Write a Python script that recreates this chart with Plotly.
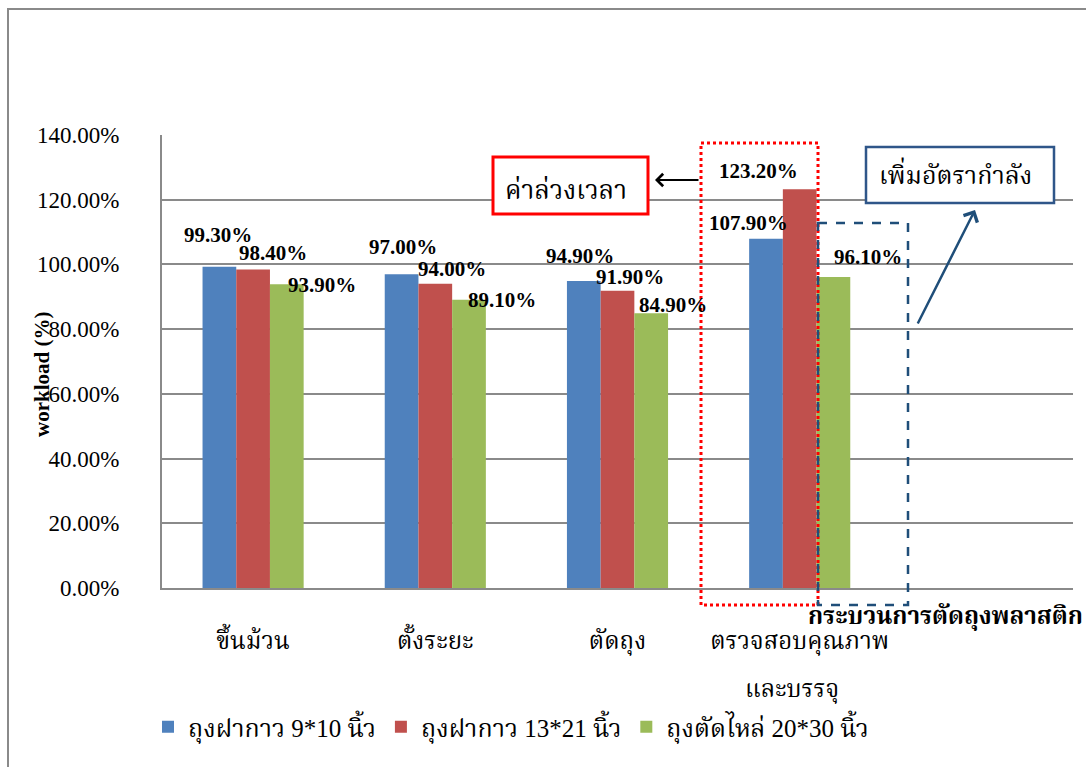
import plotly.graph_objects as go

# ---------------- data ----------------
categories = ["ขึ้นม้วน", "ตั้งระยะ", "ตัดถุง", "ตรวจสอบคุณภาพ"]
category_line2 = ["", "", "", "และบรรจุ"]
series_names = ["ถุงฝากาว 9*10 นิ้ว", "ถุงฝากาว 13*21 นิ้ว", "ถุงตัดไหล่ 20*30 นิ้ว"]
s1 = [99.3, 97.0, 94.9, 107.9]
s2 = [98.4, 94.0, 91.9, 123.2]
s3 = [93.9, 89.1, 84.9, 96.1]
y_ticks = [0, 20, 40, 60, 80, 100, 120, 140]
y_tick_labels = [f"{v:.2f}%" for v in y_ticks]

# ---------------- style ----------------
colors = ["#4F81BD", "#C0504D", "#9BBB59"]
THAI = "Liberation Serif, Noto Serif Thai, Noto Sans Thai, serif"
SERIF = "Liberation Serif, Times New Roman, serif"

W, H = 1086, 767
L, R, T, B = 162, 13, 135, 179
PW, PH = W - L - R, H - T - B

def px(x):
    return (x - L) / PW

def py(y):
    return (H - B - y) / PH

fig = go.Figure()
xs = list(range(len(categories)))
for name, vals, c in zip(series_names, [s1, s2, s3], colors):
    fig.add_trace(go.Bar(x=xs, y=vals, name=name, marker=dict(color=c, line=dict(width=0))))

# data labels (manually offset like the original)
offsets = [
    [(-1, -32), (1, -27), (-4, -25), (-17, -16)],
    [(20, -17), (17, -15), (12, -14), (-41, -18)],
    [(35, 1), (33, 0), (22, -8), (35, -20)],
]
bar_w = 0.185
for si, vals in enumerate([s1, s2, s3]):
    for ci, v in enumerate(vals):
        dx, dy = offsets[si][ci]
        fig.add_annotation(
            x=ci + (si - 1) * bar_w, y=v, xref="x", yref="y",
            xanchor="center", yanchor="middle",
            text=f"{v:.2f}%", showarrow=False,
            xshift=dx, yshift=-dy,
            font=dict(family=SERIF, size=21, color="black", weight="bold"),
        )

# second line of wrapped category labels
for ci, t in enumerate(category_line2):
    if t:
        fig.add_annotation(x=ci, y=py(690), xref="x", yref="paper", xanchor="center", yanchor="middle",
                           text=t, showarrow=False, xshift=-8,
                           font=dict(family=THAI, size=24, color="black"))

shapes = []
# outer chart border
shapes.append(dict(type="rect", xref="paper", yref="paper",
                   x0=px(8), x1=px(1095), y0=py(9), y1=py(790),
                   line=dict(color="#8A8A8A", width=2), fillcolor="rgba(0,0,0,0)", layer="below"))
# red dotted rectangle
shapes.append(dict(type="rect", xref="paper", yref="paper",
                   x0=px(701), x1=px(818), y0=py(143), y1=py(605),
                   line=dict(color="#FF0000", width=3, dash="dot")))
# blue dashed rectangle
shapes.append(dict(type="rect", xref="paper", yref="paper",
                   x0=px(818), x1=px(908), y0=py(223), y1=py(605),
                   line=dict(color="#1F4E79", width=2.5, dash="dash")))
# red text box
shapes.append(dict(type="rect", xref="paper", yref="paper",
                   x0=px(493), x1=px(648), y0=py(157), y1=py(214),
                   line=dict(color="#FF0000", width=3), fillcolor="white"))
# blue text box
shapes.append(dict(type="rect", xref="paper", yref="paper",
                   x0=px(866), x1=px(1054), y0=py(147), y1=py(203),
                   line=dict(color="#2F5689", width=2.5), fillcolor="white"))
fig.update_layout(shapes=shapes)

fig.add_annotation(xref="paper", yref="paper", x=px(566), y=py(190), xanchor="center", yanchor="middle",
                   text="ค่าล่วงเวลา", showarrow=False, font=dict(family=THAI, size=26, color="black"))
fig.add_annotation(xref="paper", yref="paper", x=px(955), y=py(173), xanchor="center", yanchor="middle",
                   text="เพิ่มอัตรากำลัง", showarrow=False, font=dict(family=THAI, size=25, color="black"))
# black arrow
fig.add_annotation(xref="x domain", yref="y domain", x=px(655), y=py(180), ax=px(700), ay=py(180),
                   axref="x domain", ayref="y domain", text="", showarrow=True,
                   arrowhead=4, arrowsize=1.2, arrowwidth=2, arrowcolor="black")
# blue arrow
fig.add_annotation(xref="x domain", yref="y domain", x=px(975), y=py(210), ax=px(917), ay=py(325),
                   axref="x domain", ayref="y domain", text="", showarrow=True,
                   arrowhead=4, arrowsize=1.2, arrowwidth=2.5, arrowcolor="#1F4E79")
# x axis title
fig.add_annotation(xref="paper", yref="paper", x=px(1085), y=py(617), xanchor="right", yanchor="middle",
                   text="<b>กระบวนการตัดถุงพลาสติก</b>", showarrow=False,
                   font=dict(family=THAI, size=24, color="black"))
# y axis title
fig.add_annotation(xref="paper", yref="paper", x=px(42), y=py(375), xanchor="center", yanchor="middle",
                   textangle=-90, text="<b>workload (%)</b>", showarrow=False,
                   font=dict(family=SERIF, size=21, color="black"))

fig.update_layout(
    width=W, height=H,
    margin=dict(l=L, r=R, t=T, b=B, autoexpand=False),
    paper_bgcolor="white", plot_bgcolor="white",
    barmode="group", bargap=0.445, bargroupgap=0,
    showlegend=True,
    legend=dict(orientation="h", x=px(148), y=py(727), xanchor="left", yanchor="middle",
                font=dict(family=THAI, size=25, color="black"), itemwidth=30,
                bgcolor="rgba(0,0,0,0)"),
    xaxis=dict(range=[-0.5, 4.5], tickvals=xs, ticktext=categories,
               showgrid=False, showline=True, linecolor="#8A8A8A", linewidth=2,
               ticks="", ticklabelstandoff=30,
               tickfont=dict(family=THAI, size=24, color="black"), zeroline=False),
    yaxis=dict(range=[0, 140], tickvals=y_ticks, ticktext=y_tick_labels,
               showgrid=True, gridcolor="#8A8A8A", gridwidth=2,
               showline=True, linecolor="#8A8A8A", linewidth=2,
               ticks="", ticklabelstandoff=36, zeroline=False,
               tickfont=dict(family=SERIF, size=23, color="black")),
)

fig.write_html("out.html")
